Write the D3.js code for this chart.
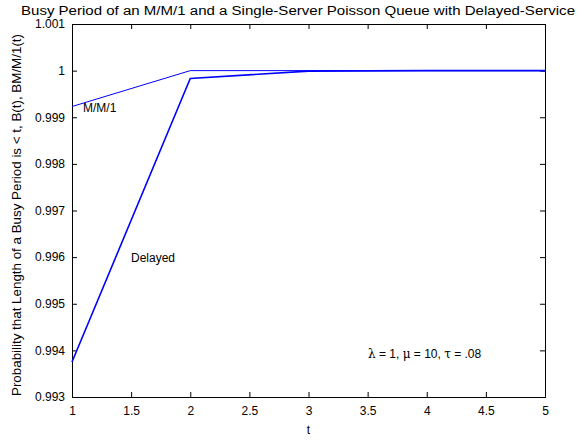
<!DOCTYPE html>
<html>
<head>
<meta charset="utf-8">
<script src="https://cdn.jsdelivr.net/npm/d3@7"></script>
<style>
  body { margin: 0; background: #fff; }
  text { font-family: "Liberation Sans", Arial, sans-serif; fill: #000; }
</style>
</head>
<body>
<div id="chart"></div>
<script>
var tValues = [1, 2, 3, 4, 5]
var mm1Values = [0.99923, 1.0, 1.0, 1.0, 1.0]
var delayedValues = [0.99375, 0.99983, 0.99999, 1.0, 1.0]
var xTicks = [1, 1.5, 2, 2.5, 3, 3.5, 4, 4.5, 5]
var yTicks = [0.993, 0.994, 0.995, 0.996, 0.997, 0.998, 0.999, 1, 1.001]

var w = 578
var h = 440
var m = { left: 72, right: 33, top: 24, bottom: 43 }

var svg = d3.select('#chart').append('svg')
  .attr('width', w)
  .attr('height', h)

var x = d3.scaleLinear().domain([1, 5]).range([m.left, w - m.right])
var y = d3.scaleLinear().domain([0.993, 1.001]).range([h - m.bottom, m.top])

// axes, matlab style: ticks pointing in, box all round
var fmtY = function (d) { return d === 1 ? '1' : d3.format('.3f')(d) }
var fmtX = function (d) { return String(d) }

svg.append('g')
  .attr('transform', 'translate(0,' + (h - m.bottom) + ')')
  .call(d3.axisBottom(x).tickValues(xTicks).tickSize(-5).tickPadding(9).tickFormat(fmtX))
svg.append('g')
  .attr('transform', 'translate(0,' + m.top + ')')
  .call(d3.axisTop(x).tickValues(xTicks).tickSize(-5).tickFormat(''))
svg.append('g')
  .attr('transform', 'translate(' + m.left + ',0)')
  .call(d3.axisLeft(y).tickValues(yTicks).tickSize(-5).tickPadding(7).tickFormat(fmtY))
svg.append('g')
  .attr('transform', 'translate(' + (w - m.right) + ',0)')
  .call(d3.axisRight(y).tickValues(yTicks).tickSize(-5).tickFormat(''))

svg.selectAll('.domain').attr('stroke', '#000').attr('stroke-width', 1)
svg.selectAll('.tick line').attr('stroke', '#000')
svg.selectAll('.tick text')
  .style('font-family', '"Liberation Sans", Arial, sans-serif')
  .style('font-size', '12px')
  .attr('fill', '#000')

var line = d3.line()
  .x(function (d) { return x(d[0]) })
  .y(function (d) { return y(d[1]) })

svg.append('path')
  .datum(d3.zip(tValues, mm1Values))
  .attr('d', line)
  .attr('fill', 'none')
  .attr('stroke', '#0000ff')
  .attr('stroke-width', 1)

svg.append('path')
  .datum(d3.zip(tValues, delayedValues))
  .attr('d', line)
  .attr('fill', 'none')
  .attr('stroke', '#0000ff')
  .attr('stroke-width', 1.6)

// annotations
svg.append('text').attr('x', 83).attr('y', 112)
  .style('font-size', '12px').text('M/M/1')
svg.append('text').attr('x', 131).attr('y', 262)
  .style('font-size', '12px').text('Delayed')

var ann = svg.append('text').attr('x', 368).attr('y', 358).style('font-size', '12px')
ann.append('tspan').style('font-family', '"DejaVu Serif", serif').text('λ')
ann.append('tspan').text(' = 1, ')
ann.append('tspan').style('font-family', '"DejaVu Serif", serif').text('μ')
ann.append('tspan').text(' = 10, ')
ann.append('tspan').style('font-family', '"DejaVu Serif", serif').text('τ')
ann.append('tspan').text(' = .08')

// title and axis labels
svg.append('text').attr('x', 298).attr('y', 15)
  .attr('text-anchor', 'middle').style('font-size', '12px')
  .attr('textLength', 554).attr('lengthAdjust', 'spacingAndGlyphs')
  .text('Busy Period of an M/M/1 and a Single-Server Poisson Queue with Delayed-Service')

svg.append('text').attr('x', x(3)).attr('y', 434)
  .attr('text-anchor', 'middle').style('font-size', '12px').text('t')

svg.append('text')
  .attr('transform', 'translate(21,215) rotate(-90)')
  .attr('text-anchor', 'middle').style('font-size', '12px')
  .attr('textLength', 362).attr('lengthAdjust', 'spacingAndGlyphs')
  .text('Probability that Length of a Busy Period is < t, B(t), BM/M/1(t)')
</script>
</body>
</html>
